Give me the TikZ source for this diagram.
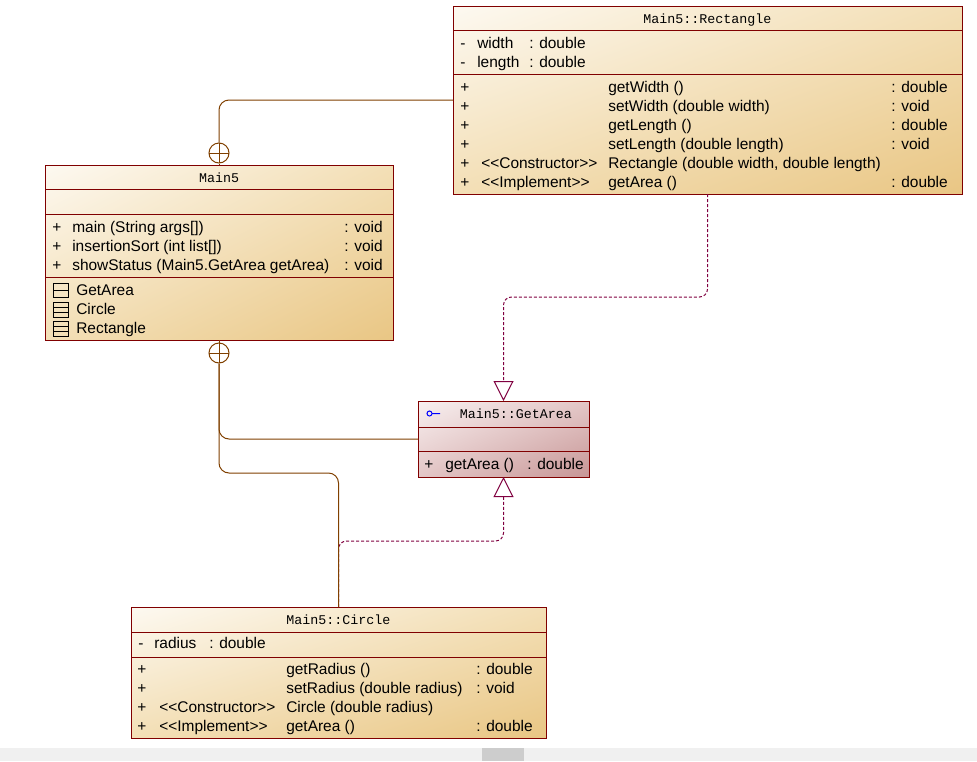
\documentclass[tikz,border=0pt]{standalone}
\usepackage{xcolor}
\usepackage{fontspec}
\usetikzlibrary{arrows.meta,shadings}
\newfontfamily\memberfont{Liberation Sans}[Ligatures=TeXOff]
\newfontfamily\titlefont{Liberation Mono}
\definecolor{boxred}{HTML}{800000}
\definecolor{tanlight}{HTML}{FDF9F1}
\definecolor{tanmid}{HTML}{F3DFB6}
\definecolor{tandark}{HTML}{E9C684}
\definecolor{roselight}{HTML}{F8F0F0}
\definecolor{rosemid}{HTML}{E3C6C6}
\definecolor{rosedark}{HTML}{C79696}
\definecolor{nestbrown}{HTML}{804000}
\definecolor{realpurple}{HTML}{800040}
\definecolor{barlight}{HTML}{F0F0F0}
\definecolor{barthumb}{HTML}{CDCDCD}
\begin{document}
\begin{tikzpicture}[x=0.75pt,y=-0.75pt]
        \tikzset{classbox/.style={rectangle,
                    draw=boxred, line width=0.75pt,
                    inner sep=0pt, outer sep=0pt,
                    anchor=north west,
                    upper left=tanlight, upper right=tanmid,
                    lower left=tanmid, lower right=tandark},
                 ifacebox/.style={classbox,
                    upper left=roselight, upper right=rosemid,
                    lower left=rosemid, lower right=rosedark},
                 compline/.style={draw=boxred, line width=0.75pt},
                 classtitle/.style={anchor=base, inner sep=0pt,
                    font=\titlefont\fontsize{10pt}{12pt}\selectfont},
                 memberrow/.style={anchor=base west, inner sep=0pt,
                    font=\memberfont\fontsize{11.6pt}{14pt}\selectfont},
                 nestmark/.style={circle, draw=nestbrown, fill=white,
                    line width=0.75pt, minimum size=15pt, inner sep=0pt,
                    path picture={\draw[nestbrown, line width=0.75pt]
                        (path picture bounding box.north) -- (path picture bounding box.south)
                        (path picture bounding box.west) -- (path picture bounding box.east);}},
                 nestline/.style={draw=nestbrown, line width=0.75pt, rounded corners=7.5pt},
                 realline/.style={draw=realpurple, line width=0.75pt,
                    dash pattern=on 2.25pt off 1.5pt, rounded corners=6pt,
                    -{Triangle[open, length=15pt, width=15pt]}}}
        \fill[white] (0,0) rectangle (977,761);
        \useasboundingbox (0,0) rectangle (977,761);
        \fill[barlight] (0,748) rectangle (977,761);
        \fill[barthumb] (482,748) rectangle (524,761);

        \node[classbox, minimum width=381.75pt, minimum height=141pt] (rect) at (453,6) {};
        \draw[compline] (rect.west |- 0,30) -- (rect.east |- 0,30);
        \draw[compline] (rect.west |- 0,74) -- (rect.east |- 0,74);
        \node[classtitle] (rectT) at (707.5,23) {Main5::Rectangle};
        \node[memberrow] (rectV1) at (460,48) {-};
        \node[memberrow] (rectA1) at (477,48) {width};
        \node[memberrow] (rectR1) at (529,48) {: double};
        \node[memberrow] (rectV2) at (460,67) {-};
        \node[memberrow] (rectA2) at (477,67) {length};
        \node[memberrow] (rectR2) at (529,67) {: double};
        \node[memberrow] (rectP1) at (460,92) {+};
        \node[memberrow] (rectM1) at (608,92) {getWidth ()};
        \node[memberrow] (rectT1) at (891,92) {: double};
        \node[memberrow] (rectP2) at (460,111) {+};
        \node[memberrow] (rectM2) at (608,111) {setWidth (double width)};
        \node[memberrow] (rectT2) at (891,111) {: void};
        \node[memberrow] (rectP3) at (460,130) {+};
        \node[memberrow] (rectM3) at (608,130) {getLength ()};
        \node[memberrow] (rectT3) at (891,130) {: double};
        \node[memberrow] (rectP4) at (460,149) {+};
        \node[memberrow] (rectM4) at (608,149) {setLength (double length)};
        \node[memberrow] (rectT4) at (891,149) {: void};
        \node[memberrow] (rectP5) at (460,168) {+};
        \node[memberrow] (rectS5) at (481,168) {<<Constructor>>};
        \node[memberrow] (rectM5) at (608,168) {Rectangle (double width, double length)};
        \node[memberrow] (rectP6) at (460,187) {+};
        \node[memberrow] (rectS6) at (481,187) {<<Implement>>};
        \node[memberrow] (rectM6) at (608,187) {getArea ()};
        \node[memberrow] (rectT6) at (891,187) {: double};

        \node[classbox, minimum width=261pt, minimum height=131.25pt] (main) at (45,165) {};
        \draw[compline] (main.west |- 0,189) -- (main.east |- 0,189);
        \draw[compline] (main.west |- 0,214) -- (main.east |- 0,214);
        \draw[compline] (main.west |- 0,277) -- (main.east |- 0,277);
        \node[classtitle] (mainT) at (219,182) {Main5};
        \node[memberrow] (mainP1) at (52,232) {+};
        \node[memberrow] (mainM1) at (72,232) {main (String args[])};
        \node[memberrow] (mainT1) at (344,232) {: void};
        \node[memberrow] (mainP2) at (52,251) {+};
        \node[memberrow] (mainM2) at (72,251) {insertionSort (int list[])};
        \node[memberrow] (mainT2) at (344,251) {: void};
        \node[memberrow] (mainP3) at (52,270) {+};
        \node[memberrow] (mainM3) at (72,270) {showStatus (Main5.GetArea getArea)};
        \node[memberrow] (mainT3) at (344,270) {: void};
        \draw[line width=0.75pt] (53,283) rectangle (68,297) (53,290) -- (68,290);
        \draw[line width=0.75pt] (53,302) rectangle (68,317) (53,307) -- (68,307) (53,312) -- (68,312);
        \draw[line width=0.75pt] (53,321) rectangle (68,336) (53,326) -- (68,326) (53,331) -- (68,331);
        \node[memberrow] (mainN1) at (76,295) {GetArea};
        \node[memberrow] (mainN2) at (76,314) {Circle};
        \node[memberrow] (mainN3) at (76,333) {Rectangle};

        \node[ifacebox, minimum width=128.25pt, minimum height=57pt] (ga) at (418,401) {};
        \draw[compline] (ga.west |- 0,427) -- (ga.east |- 0,427);
        \draw[compline] (ga.west |- 0,451) -- (ga.east |- 0,451);
        \draw[blue, line width=0.75pt] (429.5,413.5) circle[radius=2.5] (432,413.5) -- (440,413.5);
        \node[classtitle] (gaT) at (516,418) {Main5::GetArea};
        \node[memberrow] (gaP1) at (424,469) {+};
        \node[memberrow] (gaM1) at (445,469) {getArea ()};
        \node[memberrow] (gaT1) at (527,469) {: double};

        \node[classbox, minimum width=311.25pt, minimum height=98.25pt] (circ) at (131,607) {};
        \draw[compline] (circ.west |- 0,632) -- (circ.east |- 0,632);
        \draw[compline] (circ.west |- 0,657) -- (circ.east |- 0,657);
        \node[classtitle] (circT) at (338.5,624) {Main5::Circle};
        \node[memberrow] (circV1) at (138,648) {-};
        \node[memberrow] (circA1) at (154,648) {radius};
        \node[memberrow] (circR1) at (209,648) {: double};
        \node[memberrow] (circP1) at (137,674) {+};
        \node[memberrow] (circM1) at (286,674) {getRadius ()};
        \node[memberrow] (circT1) at (476,674) {: double};
        \node[memberrow] (circP2) at (137,693) {+};
        \node[memberrow] (circM2) at (286,693) {setRadius (double radius)};
        \node[memberrow] (circT2) at (476,693) {: void};
        \node[memberrow] (circP3) at (137,712) {+};
        \node[memberrow] (circS3) at (159,712) {<<Constructor>>};
        \node[memberrow] (circM3) at (286,712) {Circle (double radius)};
        \node[memberrow] (circP4) at (137,731) {+};
        \node[memberrow] (circS4) at (159,731) {<<Implement>>};
        \node[memberrow] (circM4) at (286,731) {getArea ()};
        \node[memberrow] (circT4) at (476,731) {: double};

        \node[nestmark] (nestTop) at (219,153) {};
        \node[nestmark] (nestBot) at (219,353) {};
        \coordinate (bendR) at (ga.north |- 0,297);
        \coordinate (bendG) at (ga.south |- 0,541);
        \coordinate (bendC) at (circ.north |- 0,473);

        \draw[realline] (rect.south) |- (bendR) -- (ga.north);
        \draw[realline] (circ.north) |- (bendG) -- (ga.south);
        \draw[nestline] (nestTop.north) |- (rect.west);
        \draw[nestline] (nestTop.south) -- (main.north);
        \draw[nestline] (main.south) -- (nestBot.north);
        \draw[nestline] (nestBot.south) |- (ga.west);
        \draw[nestline] (nestBot.south) |- (bendC) -- (circ.north);
    \end{tikzpicture}
\end{document}
